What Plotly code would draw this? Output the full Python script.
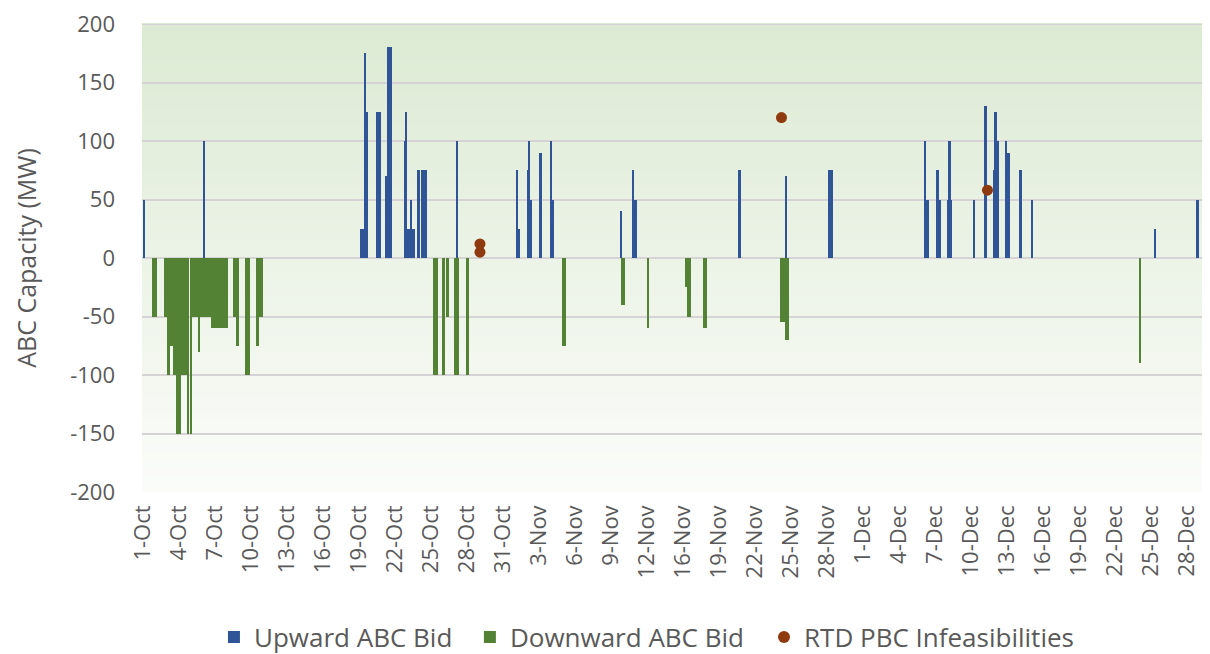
import datetime as dt
import plotly.graph_objects as go

# ---------------- data ----------------
# calendar used by the category axis (one November day absent from the source data)
first_day = "2023-10-01"
last_day = "2023-12-31"
missing_days = ["2023-11-13"]

tick_labels = ["1-Oct", "4-Oct", "7-Oct", "10-Oct", "13-Oct", "16-Oct", "19-Oct", "22-Oct",
               "25-Oct", "28-Oct", "31-Oct", "3-Nov", "6-Nov", "9-Nov", "12-Nov", "16-Nov",
               "19-Nov", "22-Nov", "25-Nov", "28-Nov", "1-Dec", "4-Dec", "7-Dec", "10-Dec",
               "13-Dec", "16-Dec", "19-Dec", "22-Dec", "25-Dec", "28-Dec"]
y_ticks = [200, 150, 100, 50, 0, -50, -100, -150, -200]
y_tick_labels = ["200", "150", "100", "50", "0", "-50", "-100", "-150", "-200"]

# Upward ABC Bid: start (MM-DD HH), duration in hours, MW
up_start = ["10-01 00", "10-06 01", "10-19 03", "10-19 10", "10-19 11", "10-20 11", "10-21 06",
            "10-21 09", "10-22 20", "10-22 22", "10-22 23", "10-23 08", "10-23 20", "10-24 04",
            "10-27 03", "11-01 02", "11-01 07", "11-02 01", "11-02 04", "11-02 06", "11-03 00",
            "11-04 00", "11-04 03", "11-09 19", "11-10 20", "11-10 21", "11-20 15", "11-24 12",
            "11-28 02", "12-06 03", "12-06 03", "12-07 03", "12-07 03", "12-08 01", "12-08 03",
            "12-10 05", "12-11 03", "12-11 21", "12-11 23", "12-12 05", "12-12 22", "12-12 23",
            "12-13 01", "12-14 01", "12-15 00", "12-25 07", "12-28 17"]
up_hours = [4, 2, 7, 9, 4, 9, 3,
            9, 3, 2, 17, 3, 6, 13,
            4, 5, 3, 5, 2, 5, 7,
            3, 3, 4, 3, 8, 5, 4,
            11, 10, 3, 10, 5, 10, 5,
            4, 5, 2, 6, 3, 3, 8,
            5, 5, 5, 3, 7]
up_mw = [50, 100, 25, 125, 175, 125, 70,
         180, 100, 125, 25, 50, 75, 75,
         100, 75, 25, 75, 100, 50, 90,
         100, 50, 40, 75, 50, 75, 70,
         75, 50, 100, 50, 75, 50, 100,
         50, 130, 75, 125, 100, 100, 40,
         90, 75, 50, 25, 50]

# Downward ABC Bid
down_start = ["10-01 19", "10-02 19", "10-03 01", "10-03 06", "10-03 13", "10-03 19", "10-04 05",
              "10-04 17", "10-04 23", "10-05 03", "10-05 14", "10-06 17", "10-08 13", "10-08 19",
              "10-09 13", "10-10 11", "10-10 17", "10-25 05", "10-25 23", "10-26 07", "10-26 23",
              "10-27 23", "11-04 23", "11-09 21", "11-12 01", "11-16 05", "11-16 09", "11-17 17",
              "11-24 03", "11-24 13", "12-23 23"]
down_hours = [9, 6, 5, 7, 7, 9, 12,
              4, 4, 38, 5, 33, 12, 5,
              9, 6, 7, 10, 5, 5, 9,
              5, 8, 8, 3, 4, 7, 7,
              10, 7, 4]
down_mw = [-50, -50, -100, -75, -100, -150, -100,
           -150, -150, -50, -80, -60, -50, -75,
           -100, -75, -50, -100, -100, -50, -100,
           -100, -75, -40, -60, -25, -50, -60,
           -55, -70, -90]

# RTD PBC Infeasibilities
rtd_time = ["10-29 02", "10-29 02", "11-24 05", "12-11 09"]
rtd_mw = [12, 5, 120, 58]

# ---------------- helpers ----------------
d0 = dt.date.fromisoformat(first_day)
d1 = dt.date.fromisoformat(last_day)
skip = {dt.date.fromisoformat(s) for s in missing_days}
days = []
d = d0
while d <= d1:
    if d not in skip:
        days.append(d)
    d += dt.timedelta(days=1)
day_index = {dd: i for i, dd in enumerate(days)}
label_index = {f"{dd.day}-{dd.strftime('%b')}": i for i, dd in enumerate(days)}


def pos(stamp):
    md, hh = stamp.split(" ")
    m, dd = md.split("-")
    return day_index[dt.date(d0.year, int(m), int(dd))] + int(hh) / 24.0


def bar_trace(starts, hours, vals, name, color, legend):
    return go.Bar(
        x=[pos(s) + h / 48.0 for s, h in zip(starts, hours)],
        y=vals,
        width=[h / 24.0 for h in hours],
        name=name, legend=legend,
        marker=dict(color=color, line=dict(width=0)),
        hoverinfo="x+y",
    )


fig = go.Figure()
fig.add_trace(bar_trace(up_start, up_hours, up_mw, "Upward ABC Bid", "#2F5597", "legend"))
fig.add_trace(bar_trace(down_start, down_hours, down_mw, "Downward ABC Bid", "#548235", "legend2"))
fig.add_trace(go.Scatter(
    x=[pos(s) for s in rtd_time], y=rtd_mw, mode="markers",
    name="RTD PBC Infeasibilities", legend="legend3",
    marker=dict(color="#8E3A0E", size=11, line=dict(width=0)),
))

# vertical gradient background of the plot area
n_bands = 60
top_rgb = (220, 234, 211)
bot_rgb = (251, 252, 250)
shapes = []
for i in range(n_bands):
    t = i / (n_bands - 1)
    c = tuple(round(top_rgb[k] + (bot_rgb[k] - top_rgb[k]) * t) for k in range(3))
    shapes.append(dict(
        type="rect", xref="x domain", yref="y domain",
        x0=0, x1=1, y0=1 - (i + 1) / n_bands, y1=1 - i / n_bands + 0.002,
        fillcolor=f"rgb{c}", line=dict(width=0), layer="below",
    ))
# top border gridline (y = 200) drawn over the gradient
shapes.append(dict(type="line", xref="x domain", yref="y", x0=0, x1=1, y0=200, y1=200,
                   line=dict(color="#D6D3D6", width=2), layer="below"))

font_family = "Open Sans, Noto Sans, sans-serif"
grey = "#595959"


def legend_box(x):
    return dict(orientation="h", x=x, xanchor="left", y=-0.31, yanchor="middle",
                font=dict(size=26, color=grey, family=font_family),
                itemsizing="constant", bgcolor="rgba(0,0,0,0)", borderwidth=0)


fig.update_layout(
    width=1202, height=646,
    margin=dict(l=134, r=2, t=16, b=162, autoexpand=False),
    paper_bgcolor="white", plot_bgcolor="white",
    barmode="overlay", bargap=0,
    shapes=shapes,
    font=dict(family=font_family, color=grey),
    showlegend=True,
    legend=legend_box(0.0675),
    legend2=legend_box(0.3076),
    legend3=legend_box(0.5835),
)

fig.update_xaxes(
    range=[-0.08, 88.75],
    tickmode="array",
    tickvals=[label_index[t] for t in tick_labels],
    ticktext=tick_labels,
    tickangle=-90,
    tickfont=dict(size=22, color=grey, family=font_family),
    showgrid=False, zeroline=False, showline=False,
    ticks="", ticklabelstandoff=8, automargin=False,
)
fig.update_yaxes(
    range=[-200, 200],
    tickmode="array", tickvals=y_ticks, ticktext=y_tick_labels,
    tickfont=dict(size=22, color=grey, family=font_family),
    ticklabeloverflow="allow",
    showgrid=True, gridcolor="#D6D3D6", gridwidth=2,
    zeroline=True, zerolinecolor="#D6D3D6", zerolinewidth=2,
    showline=False, ticks="", ticklabelstandoff=26, automargin=False,
    title=dict(text="ABC Capacity (MW)", font=dict(size=25, color=grey, family=font_family),
               standoff=26),
)

fig.write_html("out.html")
